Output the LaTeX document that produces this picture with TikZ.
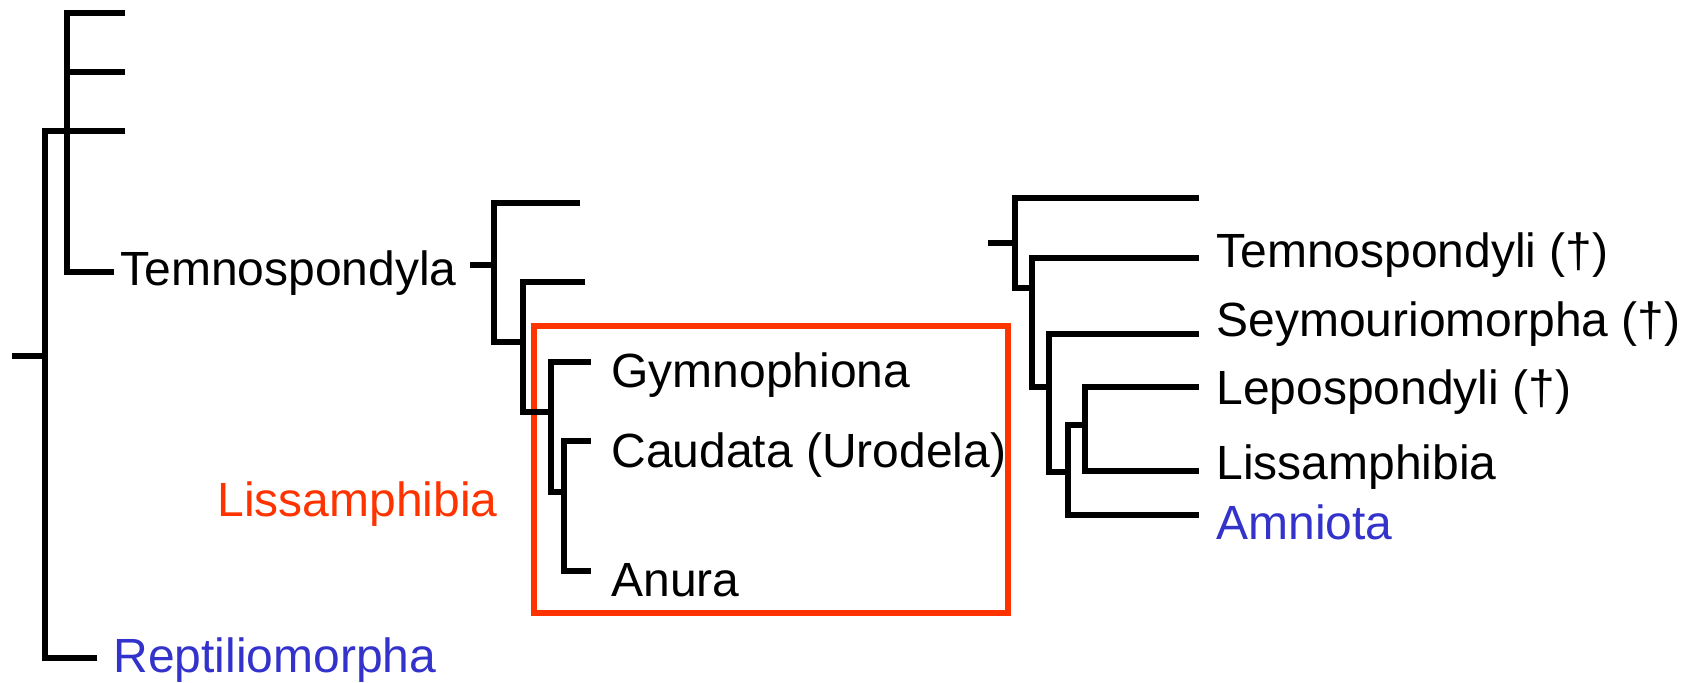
\documentclass[tikz,border=0pt]{standalone}
\usepackage{fontspec}
\setmainfont{Liberation Sans}
\definecolor{boxred}{RGB}{255,51,0}
\definecolor{cladeblue}{RGB}{51,51,204}

\begin{document}
\begin{tikzpicture}[x=0.5pt,y=-0.5pt,
    branch/.style={line width=2.85pt},
    taxon/.style={anchor=base west,inner sep=0pt,font=\fontsize{24}{29}\selectfont}]
    \useasboundingbox (0,0) rectangle (1687,683);

    \draw[boxred,line width=2.85pt] (534,326) rectangle (1008,613);

    % left tree
    \coordinate (r0s) at (12,356);
    \coordinate (r0) at (45,356);
    \coordinate (n1) at (67,131);
    \coordinate (t1) at (125,13);
    \coordinate (t2) at (125,72);
    \coordinate (t3) at (125,131);
    \coordinate (t4) at (114,272);
    \coordinate (t5) at (97,658);
    \draw[branch] (r0s) -- (r0);
    \draw[branch] (n1) -| (r0) |- (t5);
    \draw[branch] (t1) -| (n1) |- (t4);
    \draw[branch] (t2) -- (t2 -| n1);
    \draw[branch] (t3) -- (n1);

    \node[taxon] (temno) at (120,286) {Temnospondyla};
    \node[taxon,cladeblue] (reptilio) at (113,673) {Reptiliomorpha};
    \node[taxon,boxred] (lissleft) at (217,517) {Lissamphibia};

    % middle tree
    \coordinate (m0s) at (470,265);
    \coordinate (m0) at (494,265);
    \coordinate (m1) at (523,342);
    \coordinate (m2) at (551,412);
    \coordinate (m3) at (564,492);
    \coordinate (mt1) at (580,203);
    \coordinate (mt2) at (585,282);
    \coordinate (gym) at (591,362);
    \coordinate (cau) at (591,441);
    \coordinate (anu) at (591,571);
    \draw[branch] (m0s) -- (m0);
    \draw[branch] (mt1) -| (m0) |- (m1);
    \draw[branch] (mt2) -| (m1) |- (m2);
    \draw[branch] (gym) -| (m2) |- (m3);
    \draw[branch] (cau) -| (m3) |- (anu);

    \node[taxon] (gymname) at (611,388) {Gymnophiona};
    \node[taxon] (cauname) at (611,468) {Caudata (Urodela)};
    \node[taxon] (anuname) at (611,597) {Anura};

    % right tree
    \coordinate (q0s) at (988,243);
    \coordinate (q0) at (1015,243);
    \coordinate (q1) at (1032,288);
    \coordinate (q2) at (1049,387);
    \coordinate (q3) at (1068,472);
    \coordinate (q4) at (1085,425);
    \coordinate (u1) at (1199,198);
    \coordinate (u2) at (1199,258);
    \coordinate (u3) at (1199,334);
    \coordinate (u4) at (1199,387);
    \coordinate (u5) at (1199,471);
    \coordinate (u6) at (1199,515);
    \draw[branch] (q0s) -- (q0);
    \draw[branch] (u1) -| (q0) |- (q1);
    \draw[branch] (u2) -| (q1) |- (q2);
    \draw[branch] (u3) -| (q2) |- (q3);
    \draw[branch] (q4) -| (q3) |- (u6);
    \draw[branch] (u4) -| (q4) |- (u5);

    \node[taxon] (temnoli) at (1216,268) {Temnospondyli (†)};
    \node[taxon] (seymour) at (1216,337) {Seymouriomorpha (†)};
    \node[taxon] (lepo) at (1216,405) {Lepospondyli (†)};
    \node[taxon] (lissright) at (1216,480) {Lissamphibia};
    \node[taxon,cladeblue] (amnio) at (1216,540) {Amniota};
\end{tikzpicture}
\end{document}
